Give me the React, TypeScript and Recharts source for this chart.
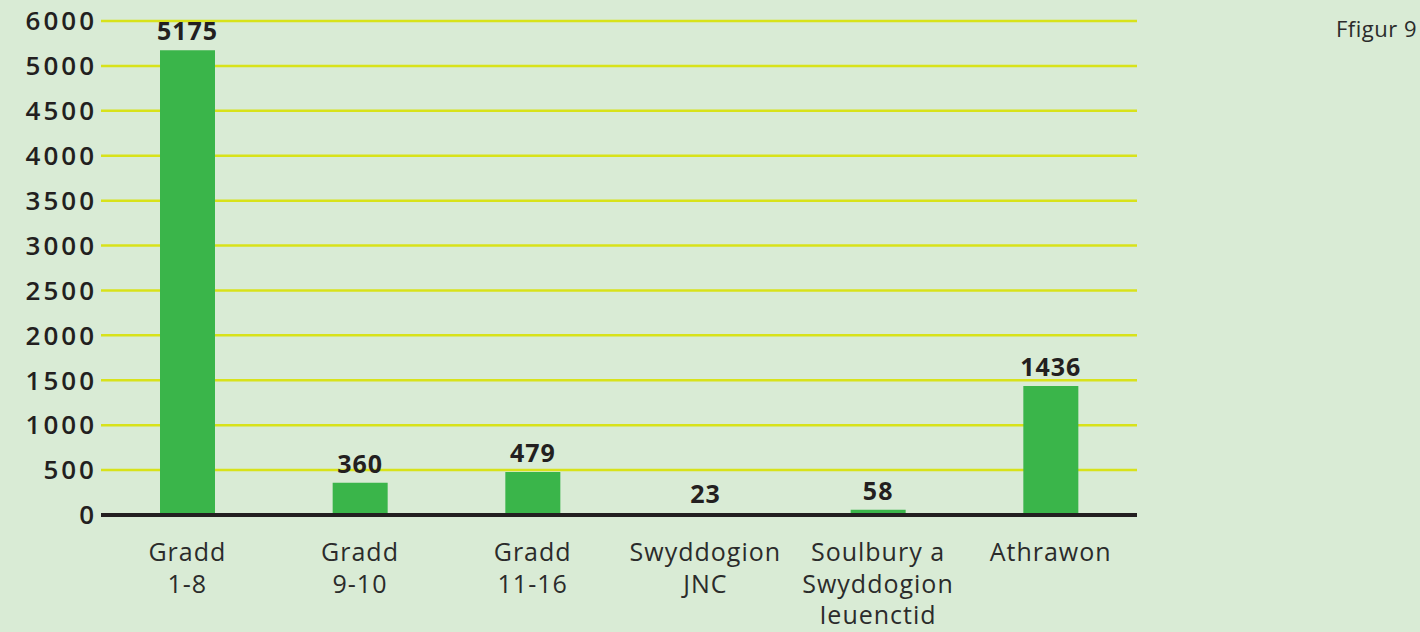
import { BarChart, Bar, XAxis, YAxis, CartesianGrid, LabelList } from 'recharts';

const categories = ['Gradd\n1-8', 'Gradd\n9-10', 'Gradd\n11-16', 'Swyddogion\nJNC', 'Soulbury a\nSwyddogion\nIeuenctid', 'Athrawon'];
const staffCounts = [5175, 360, 479, 23, 58, 1436];
const yTicks = [0, 500, 1000, 1500, 2000, 2500, 3000, 3500, 4000, 4500, 5000, 5500];
const yTickLabels = ['0', '500', '1000', '1500', '2000', '2500', '3000', '3500', '4000', '4500', '5000', '6000'];

const data = categories.map((name, i) => ({ name, value: staffCounts[i] }));

const FONT = '"Open Sans", sans-serif';

function CategoryTick({ x, y, payload }: any) {
  const lines = String(payload.value).split('\n');
  return (
    <text x={x} y={y + 44} textAnchor="middle" fill="#2b2b2b" fontSize={25} letterSpacing={1} fontFamily={FONT}>
      {lines.map((line, i) => (
        <tspan key={i} x={x} dy={i === 0 ? 0 : 31.5}>
          {line}
        </tspan>
      ))}
    </text>
  );
}

export default function App() {
  return (
    <div style={{ position: 'absolute', left: 0, top: 0, width: 1420, height: 632, background: '#d9ebd5', fontFamily: FONT }}>
      <div style={{ position: 'absolute', right: 3, top: 13, fontSize: 22, letterSpacing: 0.5, color: '#2b2b2b' }}>Ffigur 9</div>
      <BarChart
        width={1420}
        height={632}
        data={data}
        margin={{ top: 21, right: 283, left: 0, bottom: 0 }}
        barCategoryGap={0}
      >
        <CartesianGrid vertical={false} stroke="#d8e21a" strokeWidth={2.5} />
        <XAxis
          dataKey="name"
          tick={<CategoryTick />}
          tickLine={false}
          tickSize={0}
          axisLine={{ stroke: '#231f20', strokeWidth: 4 }}
          height={117}
          interval={0}
        />
        <YAxis
          domain={[0, 5500]}
          ticks={yTicks}
          tickFormatter={(v: number) => yTickLabels[yTicks.indexOf(v)]}
          tick={{ fontSize: 26, fontWeight: 600, fill: '#231f20', fontFamily: FONT, letterSpacing: 3 }}
          tickLine={false}
          tickSize={0}
          tickMargin={4}
          axisLine={false}
          width={101}
          interval={0}
        />
        <Bar dataKey="value" fill="#3ab54a" barSize={55} isAnimationActive={false}>
          <LabelList
            dataKey="value"
            position="top"
            offset={10}
            fill="#231f20"
            fontSize={25}
            fontWeight={700}
            letterSpacing={1}
            fontFamily={FONT}
          />
        </Bar>
      </BarChart>
    </div>
  );
}
